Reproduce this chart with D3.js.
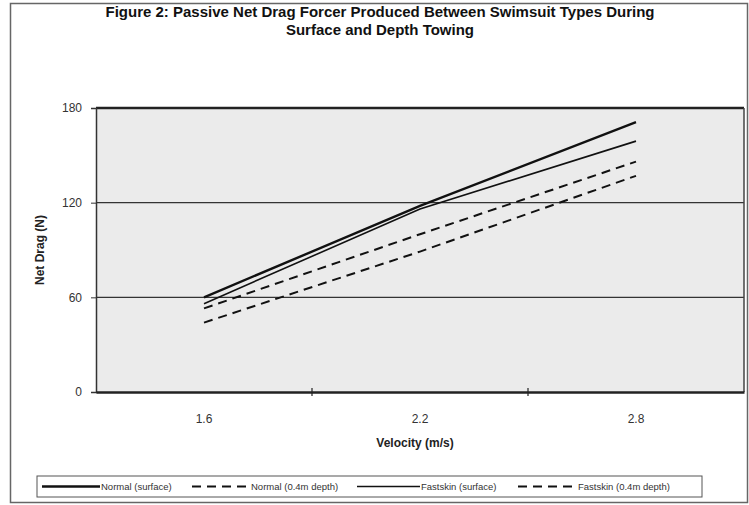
<!DOCTYPE html>
<html>
<head>
<meta charset="utf-8">
<script src="https://cdn.jsdelivr.net/npm/d3@7/dist/d3.min.js"></script>
<style>
  html, body { margin: 0; padding: 0; background: #fff; }
  svg { display: block; font-family: "Liberation Sans", Arial, sans-serif; }
</style>
</head>
<body>
<svg id="chart" width="749" height="505"></svg>
<script>
// ---- data ----
const categories = ["1.6", "2.2", "2.8"];
const seriesNames = ["Normal (surface)", "Normal (0.4m depth)", "Fastskin (surface)", "Fastskin (0.4m depth)"];
const normalSurface = [60, 118, 171];
const normalDepth = [53, 100, 146];
const fastskinSurface = [56, 116, 159];
const fastskinDepth = [44, 89, 137];
const yTicks = [0, 60, 120, 180];
const titleLines = ["Figure 2: Passive Net Drag Forcer Produced Between Swimsuit Types During", "Surface and Depth Towing"];
const xTitle = "Velocity (m/s)";
const yTitle = "Net Drag (N)";

const seriesValues = [normalSurface, normalDepth, fastskinSurface, fastskinDepth];
const seriesStyle = [
  { width: 2.4, dash: null },
  { width: 2, dash: "9,6" },
  { width: 1.6, dash: null },
  { width: 2, dash: "9,6" }
];

const svg = d3.select("#chart");
const W = 749, H = 505;
const plot = { left: 96, right: 744, top: 108, bottom: 392 };

// outer frame
svg.append("rect").attr("x", 10.5).attr("y", 3.5).attr("width", W - 12).attr("height", H - 6)
  .attr("fill", "#fff").attr("stroke", "#666").attr("stroke-width", 1.5);

// title
svg.append("g").selectAll("text").data(titleLines).join("text")
  .attr("x", 380).attr("y", (d, i) => 17 + i * 18)
  .attr("text-anchor", "middle").attr("font-weight", "bold").attr("font-size", 15)
  .attr("fill", "#111").text(d => d);

const x = d3.scaleBand().domain(categories).range([plot.left, plot.right]).padding(0);
const y = d3.scaleLinear().domain([0, 180]).range([plot.bottom, plot.top]);

// plot background
svg.append("rect").attr("x", plot.left).attr("y", plot.top)
  .attr("width", plot.right - plot.left).attr("height", plot.bottom - plot.top)
  .attr("fill", "#ebebeb");

// gridlines
svg.append("g").selectAll("line").data(yTicks.filter(d => d > 0 && d < 180)).join("line")
  .attr("x1", plot.left).attr("x2", plot.right)
  .attr("y1", d => y(d)).attr("y2", d => y(d))
  .attr("stroke", "#333").attr("stroke-width", 1.2);

// border
svg.append("line").attr("x1", plot.left).attr("x2", plot.right).attr("y1", plot.top).attr("y2", plot.top)
  .attr("stroke", "#222").attr("stroke-width", 2.5);
svg.append("line").attr("x1", plot.right).attr("x2", plot.right).attr("y1", plot.top).attr("y2", plot.bottom)
  .attr("stroke", "#444").attr("stroke-width", 1.5);

// y axis
const yAxis = svg.append("g").attr("transform", `translate(${plot.left},0)`)
  .call(d3.axisLeft(y).tickValues(yTicks).tickSize(5).tickPadding(9).tickFormat(d3.format("d")));
yAxis.select(".domain").attr("stroke", "#333").attr("stroke-width", 1.5);
yAxis.selectAll(".tick line").attr("stroke", "#333");
yAxis.selectAll("text").attr("font-size", 12).attr("fill", "#333").attr("font-family", "Liberation Sans, Arial, sans-serif");

// x axis
const xAxis = svg.append("g").attr("transform", `translate(0,${plot.bottom})`)
  .call(d3.axisBottom(x).tickSize(0).tickPadding(22));
xAxis.select(".domain").attr("stroke", "#222").attr("stroke-width", 2.5);
xAxis.selectAll("text").attr("font-size", 12).attr("fill", "#333").attr("font-family", "Liberation Sans, Arial, sans-serif");
// category boundary tick marks
xAxis.append("g").selectAll("line").data(categories.slice(1)).join("line")
  .attr("x1", d => x(d)).attr("x2", d => x(d)).attr("y1", -4).attr("y2", 4)
  .attr("stroke", "#222").attr("stroke-width", 1.2);

// axis titles
svg.append("text").attr("x", 415).attr("y", 447).attr("text-anchor", "middle")
  .attr("font-weight", "bold").attr("font-size", 12).attr("fill", "#222").text(xTitle);
svg.append("text").attr("transform", `translate(44,${(plot.top + plot.bottom) / 2}) rotate(-90)`)
  .attr("text-anchor", "middle").attr("font-weight", "bold").attr("font-size", 12)
  .attr("fill", "#222").text(yTitle);

// lines
const lineGen = d3.line().x((d, i) => x(categories[i]) + x.bandwidth() / 2).y(d => y(d));
svg.append("g").selectAll("path").data(seriesValues).join("path")
  .attr("d", d => lineGen(d)).attr("fill", "none").attr("stroke", "#111")
  .attr("stroke-width", (d, i) => seriesStyle[i].width)
  .attr("stroke-dasharray", (d, i) => seriesStyle[i].dash);

// legend
const legendBox = { x: 37, y: 476, w: 665, h: 21 };
svg.append("rect").attr("x", legendBox.x).attr("y", legendBox.y).attr("width", legendBox.w).attr("height", legendBox.h)
  .attr("fill", "#fff").attr("stroke", "#555").attr("stroke-width", 1);
const itemOffsets = [5, 155, 320, 481];
const symW = [58, 58, 63, 59];
const lg = svg.append("g").selectAll("g").data(seriesNames).join("g")
  .attr("transform", (d, i) => `translate(${legendBox.x + itemOffsets[i]},${legendBox.y + legendBox.h / 2})`);
lg.append("line").attr("x1", 0).attr("x2", (d, i) => symW[i]).attr("y1", 0).attr("y2", 0)
  .attr("stroke", "#111").attr("stroke-width", (d, i) => seriesStyle[i].width)
  .attr("stroke-dasharray", (d, i) => seriesStyle[i].dash);
lg.append("text").attr("x", (d, i) => symW[i] + 1).attr("y", 3.5)
  .attr("font-size", 9.5).attr("fill", "#333").text(d => d);
</script>
</body>
</html>
